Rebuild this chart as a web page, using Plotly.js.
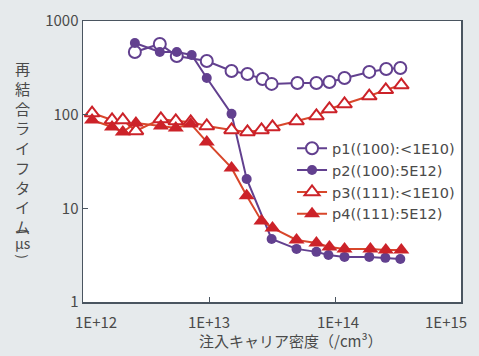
<!DOCTYPE html>
<html>
<head>
<meta charset="utf-8">
<script src="https://cdn.plot.ly/plotly-3.0.1.min.js"></script>
<style>html,body{margin:0;padding:0;background:#e6eaec;}#chart{width:479px;height:356px;}</style>
</head>
<body>
<div id="chart"></div>
<script>
// ---- data ----
const seriesNames = ['p1((100):<1E10)', 'p2((100):5E12)', 'p3((111):<1E10)', 'p4((111):5E12)'];

const p1X = [2.58e12, 4.07e12, 5.55e12, 9.6e12, 1.51e13, 2.02e13, 2.66e13, 3.14e13, 5.03e13, 7.12e13, 9.03e13, 1.19e14, 1.87e14, 2.55e14, 3.30e14];
const p1Y = [467, 569, 423, 374, 293, 272, 240, 213, 218, 218, 223, 246, 286, 307, 315];

const p2X = [2.58e12, 4.07e12, 5.55e12, 7.29e12, 9.6e12, 1.51e13, 1.99e13, 3.14e13, 4.95e13, 7.12e13, 8.87e13, 1.19e14, 1.87e14, 2.51e14, 3.30e14];
const p2Y = [582, 467, 467, 434, 246, 102, 20.6, 4.71, 3.69, 3.43, 3.18, 3.03, 3.03, 2.96, 2.88];

const p3X = [1.18e12, 1.70e12, 2.07e12, 2.63e12, 4.15e12, 5.45e12, 7.16e12, 9.6e12, 1.51e13, 2.02e13, 2.61e13, 3.19e13, 4.95e13, 7.12e13, 9.03e13, 1.19e14, 1.87e14, 2.53e14, 3.36e14];
const p3Y = [104, 87.8, 87.8, 67, 90, 85.7, 83.6, 75.7, 68.7, 65.4, 68.7, 73.9, 85.7, 96.9, 115, 130, 158, 184, 207];

const p4X = [1.18e12, 1.70e12, 2.07e12, 2.63e12, 4.15e12, 5.45e12, 7.16e12, 9.6e12, 1.51e13, 1.99e13, 2.61e13, 3.19e13, 4.95e13, 7.12e13, 9.03e13, 1.19e14, 1.91e14, 2.53e14, 3.36e14];
const p4Y = [87.8, 73.9, 65.4, 81.5, 75.7, 72.1, 79.6, 51.2, 27.0, 13.6, 7.34, 6.18, 4.60, 4.27, 3.87, 3.69, 3.69, 3.60, 3.60];

const xTickVals = [1e12, 1e13, 1e14, 1e15];
const xTickText = ['1E+12', '1E+13', '1E+14', '1E+15'];
const yTickVals = [1, 10, 100, 1000];
const yTickText = ['1', '10', '100', '1000'];

const xTitle = '注入キャリア密度（/cm³）';
const yTitleMain = '再結合ライフタイム';
const yTitleUnit = ['(', 'μs', ')'];

// ---- style ----
const FONT = '"Noto Sans CJK JP", "Noto Sans", sans-serif';
const LFONT = '"DejaVu Sans", "Noto Sans", sans-serif';
const TXT = '#4a4a4a';
const PURPLE = '#62408f';
const RED = '#cc2229';
const ORANGE = '#d8472b';

const traces = [
  {x: p1X, y: p1Y, name: seriesNames[0], mode: 'lines+markers',
   line: {color: PURPLE, width: 2},
   marker: {symbol: 'circle', size: 12, color: '#ffffff', line: {color: PURPLE, width: 2}}},
  {x: p2X, y: p2Y, name: seriesNames[1], mode: 'lines+markers',
   line: {color: PURPLE, width: 2},
   marker: {symbol: 'circle', size: 10, color: PURPLE, line: {color: PURPLE, width: 0}}},
  {x: p3X, y: p3Y, name: seriesNames[2], mode: 'lines+markers',
   line: {color: ORANGE, width: 2},
   marker: {symbol: 'triangle-up', size: 13, color: '#ffffff', line: {color: RED, width: 2}}},
  {x: p4X, y: p4Y, name: seriesNames[3], mode: 'lines+markers',
   line: {color: ORANGE, width: 2},
   marker: {symbol: 'triangle-up', size: 14, color: RED, line: {color: RED, width: 0}}}
];

// plot area in pixels: left 83, right 461, top 21, bottom 302
const plotTop = 21, plotBottom = 302;
const toPaperY = py => (plotBottom - py) / (plotBottom - plotTop);
const annotations = [];
// vertical (stacked) y-axis title
annotations.push({
  text: yTitleMain.split('').join('<br>'), xref: 'paper', yref: 'paper',
  x: -0.16, xanchor: 'center', y: toPaperY(55), yanchor: 'top',
  showarrow: false, font: {family: FONT, size: 15.2, color: TXT}
});
const unitPix = [230, 243, 256];
const unitAngle = [90, 0, 90];
const unitSize = [13, 14, 13];
yTitleUnit.forEach((c, i) => {
  annotations.push({
    text: c, xref: 'paper', yref: 'paper', x: -0.16, xanchor: 'center',
    y: toPaperY(unitPix[i]), yanchor: 'middle', textangle: unitAngle[i],
    showarrow: false, font: {family: FONT, size: unitSize[i], color: TXT}
  });
});
// x tick labels (ends pulled inward like the original)
const xShift = [13, 0, 3, -15];
xTickVals.forEach((v, i) => {
  annotations.push({
    text: xTickText[i], xref: 'x', yref: 'paper', x: Math.log10(v), y: 0,
    yshift: -19, xshift: xShift[i], xanchor: 'center', yanchor: 'middle',
    showarrow: false, font: {family: FONT, size: 15, color: TXT}
  });
});
// x title
annotations.push({
  text: xTitle, xref: 'paper', yref: 'paper', x: 0.55, y: 0, yshift: -38,
  xanchor: 'center', yanchor: 'middle', showarrow: false,
  font: {family: FONT, size: 15, color: TXT}
});

const layout = {
  width: 479, height: 356,
  margin: {l: 83, r: 18, t: 21, b: 54, pad: 0},
  paper_bgcolor: '#e6eaec',
  plot_bgcolor: '#ffffff',
  font: {family: FONT, size: 15, color: TXT},
  showlegend: true,
  legend: {x: 0.553, y: 0.604, xanchor: 'left', yanchor: 'top',
           bgcolor: 'rgba(0,0,0,0)', borderwidth: 0,
           font: {family: LFONT, size: 14.5, color: TXT}},
  xaxis: {type: 'log', range: [12, 15], tickvals: xTickVals, ticktext: xTickText,
          showticklabels: false, ticks: 'inside', ticklen: 5, tickcolor: '#4a5560',
          showline: true, linecolor: '#4a5560', linewidth: 1.5, mirror: true,
          showgrid: false, zeroline: false},
  yaxis: {type: 'log', range: [0, 3], tickvals: yTickVals, ticktext: yTickText,
          ticks: 'inside', ticklen: 5, tickcolor: '#4a5560',
          tickfont: {family: FONT, size: 15, color: TXT},
          showline: true, linecolor: '#4a5560', linewidth: 1.5, mirror: true,
          showgrid: false, zeroline: false},
  annotations: annotations
};

Plotly.newPlot('chart', traces, layout, {displayModeBar: false, staticPlot: true});
</script>
</body>
</html>
